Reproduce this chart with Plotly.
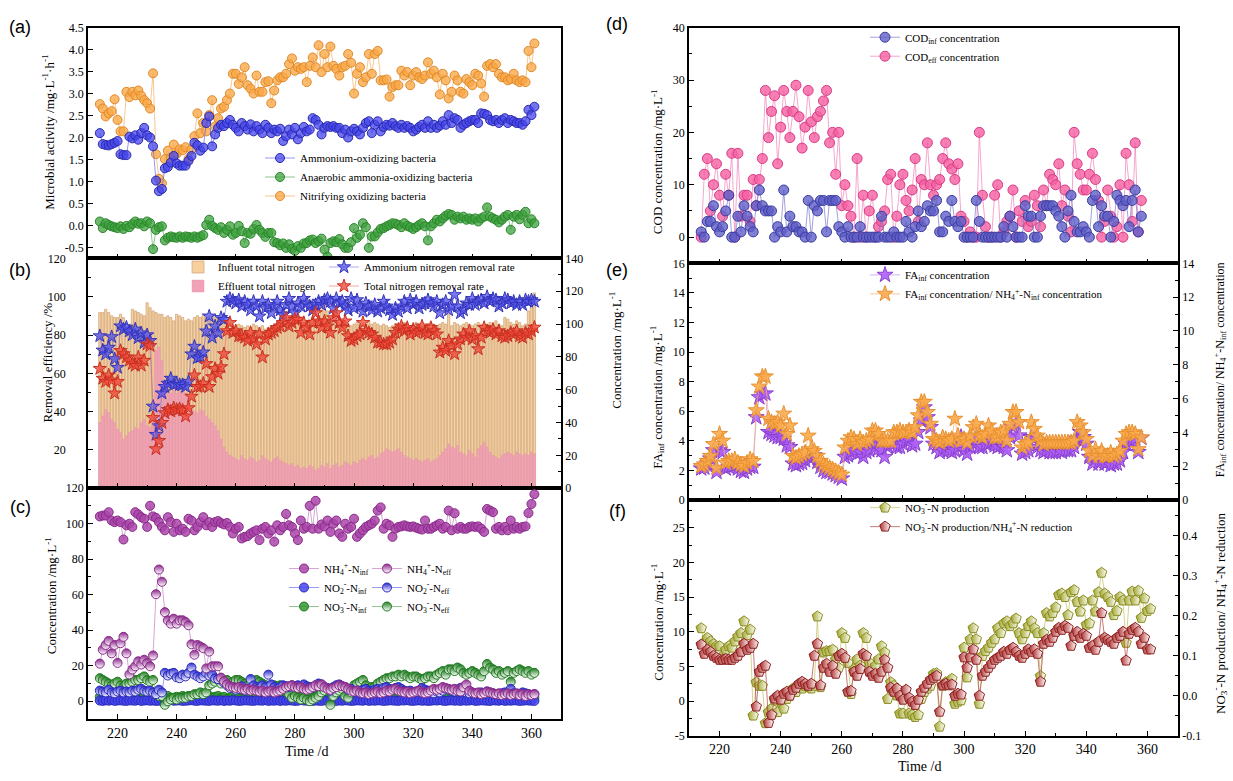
import plotly.graph_objects as go

W, H = 1233, 781
FONT = "Liberation Serif, Times New Roman, serif"


def px(x):
    return x / W


def py(y):
    return 1 - y / H


# ---------------- x values ----------------
days = list(range(214, 362))        # panels a, b, c, f
days_de = list(range(214, 359))     # panels d, e

# ---------------- (a) microbial activity ----------------
aob = [2.10, 1.85, 1.83, 1.82, 1.85, 1.88, 1.92, 1.62, 1.60, 1.60,
       2.02, 1.98, 2.05, 1.95, 2.10, 2.22, 2.05, 2.00, 1.80, 1.02,
       0.78, 0.83, 1.30, 1.33, 1.43, 1.58, 1.41, 1.36, 1.36, 1.36,
       1.47, 1.58, 1.88, 1.82, 1.70, 1.77, 2.33, 2.48, 1.80, 2.07,
       2.22, 2.29, 2.26, 2.33, 2.40, 2.29, 2.22, 2.14, 2.33, 2.26,
       2.18, 2.30, 2.14, 2.26, 2.18, 2.10, 2.29, 2.22, 2.10, 2.18,
       2.14, 2.20, 1.92, 2.03, 2.18, 2.07, 2.22, 1.96, 2.10, 2.24,
       2.14, 2.18, 2.44, 2.40, 2.29, 2.07, 2.22, 2.26, 2.24, 2.26,
       2.22, 2.22, 2.10, 2.18, 2.00, 2.14, 2.20, 2.14, 2.07, 2.22,
       2.33, 2.37, 2.10, 2.29, 2.37, 2.14, 2.24, 2.29, 2.27, 2.33,
       2.26, 2.22, 2.29, 2.22, 2.26, 2.22, 2.14, 2.18, 2.24, 2.29,
       2.22, 2.37, 2.22, 2.29, 2.22, 2.27, 2.37, 2.29, 2.51, 2.33,
       2.44, 2.40, 2.22, 2.29, 2.33, 2.37, 2.40, 2.40, 2.33, 2.55,
       2.54, 2.51, 2.40, 2.37, 2.40, 2.33, 2.40, 2.44, 2.33, 2.40,
       2.37, 2.33, 2.33, 2.29, 2.37, 2.63, 2.51, 2.70]

anaob = [0.09, -0.06, 0.05, 0.01, -0.02, -0.04, -0.06, -0.02, -0.08, -0.01,
         -0.04, 0.03, 0.09, 0.04, 0.05, -0.02, 0.09, 0.05, -0.54, -0.10,
         -0.04, -0.02, -0.34, -0.28, -0.25, -0.27, -0.28, -0.25, -0.28, -0.25,
         -0.26, -0.28, -0.25, -0.28, -0.25, -0.22, 0.01, 0.13, -0.01, -0.06,
         -0.10, -0.04, -0.17, -0.10, -0.02, -0.21, -0.17, -0.01, -0.13, -0.40,
         -0.17, -0.19, -0.08, 0.01, -0.10, -0.17, -0.26, -0.17, -0.17, -0.38,
         -0.40, -0.45, -0.41, -0.51, -0.43, -0.53, -0.58, -0.47, -0.51, -0.41,
         -0.40, -0.34, -0.32, -0.40, -0.36, -0.30, -0.55, -0.71, -0.40, -0.36,
         -0.38, -0.31, -0.43, -0.51, -0.51, -0.38, -0.06, -0.28, -0.21, 0.05,
         -0.04, -0.51, -0.25, -0.25, -0.16, -0.08, -0.06, -0.02, 0.01, 0.05,
         0.04, 0.01, -0.04, 0.05, -0.01, -0.04, -0.08, -0.04, 0.01, 0.05,
         -0.02, -0.34, -0.02, 0.05, 0.13, 0.09, 0.16, 0.22, 0.26, 0.24,
         0.13, 0.20, 0.16, 0.20, 0.13, 0.16, 0.13, 0.16, 0.09, 0.16,
         0.20, 0.41, 0.20, 0.16, 0.13, 0.07, 0.13, 0.20, 0.24, -0.10,
         0.20, 0.24, 0.14, 0.24, 0.31, 0.05, 0.14, 0.05]

nob = [2.76, 2.66, 2.48, 2.55, 2.60, 2.87, 2.40, 2.14, 2.14, 3.04,
       2.92, 3.04, 2.96, 3.07, 2.95, 2.85, 2.78, 2.66, 3.46, 1.62,
       1.06, 0.96, 1.51, 1.70, 1.54, 1.84, 1.63, 1.73, 1.71, 1.78,
       1.51, 1.73, 2.03, 2.55, 2.10, 2.33, 2.14, 2.51, 2.85, 2.25,
       2.44, 2.66, 2.70, 2.85, 3.00, 3.45, 3.45, 3.22, 3.37, 3.60,
       3.19, 3.11, 3.00, 3.41, 3.04, 3.04, 3.26, 3.28, 2.78, 3.07,
       3.30, 3.37, 3.37, 3.45, 3.67, 3.80, 3.52, 3.60, 3.56, 3.60,
       3.26, 3.63, 3.82, 3.60, 4.10, 3.49, 3.90, 3.60, 4.07, 3.63,
       3.56, 3.41, 3.60, 3.63, 3.90, 3.70, 3.00, 3.45, 3.60, 3.26,
       3.37, 3.90, 3.45, 3.90, 3.97, 3.30, 3.30, 3.32, 2.93, 3.15,
       3.19, 3.19, 3.52, 3.41, 3.49, 3.19, 3.41, 3.49, 3.37, 3.33,
       3.41, 3.71, 3.45, 3.52, 3.37, 2.98, 3.45, 3.30, 2.89, 3.04,
       3.41, 3.30, 3.04, 3.00, 3.33, 3.26, 3.19, 3.45, 3.41, 3.23,
       2.93, 3.63, 3.67, 3.60, 3.67, 3.45, 3.37, 3.37, 3.30, 3.33,
       3.45, 3.30, 3.26, 3.30, 3.26, 3.97, 3.60, 4.14]

# ---------------- (b) nitrogen removal ----------------
tn_influent = [107, 107, 109, 107, 105, 104, 104, 106, 104, 98,
               100, 109, 108, 107, 106, 105, 113, 110, 108, 107,
               106, 106, 104, 105, 104, 102, 106, 105, 104, 102,
               103, 102, 104, 105, 104, 106, 104, 103, 105, 104,
               104, 103, 104, 102, 101, 100, 99, 100, 99, 98,
               99, 98, 100, 99, 98, 99, 97, 98, 99, 97,
               98, 99, 98, 100, 99, 101, 100, 102, 100, 101,
               102, 103, 101, 102, 104, 110, 114, 108, 103, 102,
               101, 100, 102, 101, 100, 99, 100, 101, 100, 99,
               100, 102, 100, 101, 100, 99, 100, 99, 98, 99,
               100, 99, 100, 101, 100, 99, 100, 101, 100, 99,
               99, 100, 101, 100, 99, 100, 101, 100, 106, 99,
               101, 100, 99, 100, 101, 100, 99, 100, 101, 100,
               99, 100, 101, 100, 102, 100, 99, 104, 103, 101,
               100, 102, 101, 99, 100, 108, 110, 119]

tn_effluent = [40, 44, 48, 46, 42, 40, 36, 34, 30, 32,
               34, 35, 37, 36, 40, 42, 38, 37, 44, 84,
               86, 78, 64, 60, 58, 60, 58, 59, 60, 58,
               56, 48, 47, 46, 48, 47, 44, 42, 40, 38,
               35, 30, 25, 22, 20, 19, 18, 17, 20, 18,
               17, 19, 18, 16, 17, 20, 18, 17, 16, 18,
               19, 17, 16, 15, 14, 15, 13, 14, 12, 13,
               12, 14, 13, 11, 12, 14, 13, 15, 12, 14,
               15, 13, 14, 16, 15, 14, 16, 15, 17, 18,
               17, 19, 20, 18, 19, 21, 22, 24, 23, 22,
               23, 24, 22, 20, 19, 18, 17, 18, 17, 16,
               17, 18, 16, 17, 18, 20, 22, 24, 27, 25,
               24, 26, 22, 21, 20, 23, 21, 19, 24, 26,
               28, 25, 22, 20, 19, 18, 20, 21, 22, 21,
               20, 22, 21, 20, 21, 20, 22, 21]

nh4_removal = [79.5, 72.0, 70.0, 73.5, 79.0, 67.5, 63.0, 84.6, 83.0, 84.0,
               82.0, 80.0, 83.0, 78.5, 81.0, 76.0, 80.0, 77.0, 42.7, 28.0,
               32.5, 49.6, 53.0, 54.7, 57.3, 54.0, 54.7, 54.0, 54.0, 53.0,
               55.7, 70.0, 74.0, 68.0, 68.5, 71.0, 82.0, 89.8, 78.7, 84.6,
               81.0, 89.0, 88.0, 97.5, 99.0, 98.0, 96.6, 98.3, 95.0, 97.5,
               95.8, 93.0, 97.5, 95.0, 89.8, 97.5, 94.0, 95.8, 91.5, 95.0,
               97.5, 93.0, 90.6, 95.8, 99.0, 95.0, 91.5, 96.6, 95.0, 99.0,
               96.6, 95.0, 93.0, 95.8, 97.5, 95.8, 98.3, 99.0, 97.5, 94.0,
               99.0, 96.6, 97.5, 95.0, 93.0, 99.0, 94.0, 98.3, 95.0, 92.3,
               96.6, 95.0, 93.0, 95.8, 92.3, 94.0, 97.5, 95.0, 93.0, 90.6,
               94.0, 92.3, 95.0, 97.5, 94.0, 98.3, 95.8, 97.5, 94.0, 95.8,
               96.6, 98.3, 96.6, 95.0, 97.5, 91.5, 95.8, 97.5, 93.0, 95.0,
               101.0, 95.0, 91.5, 93.0, 96.6, 95.8, 99.0, 95.8, 97.5, 98.3,
               96.6, 100.0, 97.5, 99.0, 98.3, 95.0, 96.6, 99.0, 98.3, 96.6,
               97.5, 95.8, 97.5, 95.8, 98.3, 97.5, 98.3, 97.5]

tn_removal = [62.4, 57.3, 55.6, 59.0, 56.4, 49.6, 55.6, 71.8, 70.1, 68.4,
              66.7, 65.0, 64.1, 68.4, 64.1, 66.7, 75.2, 74.4, 36.8, 20.5,
              24.8, 34.2, 39.3, 41.0, 40.2, 41.9, 41.0, 41.4, 40.7, 37.6,
              41.9, 47.9, 59.0, 53.0, 53.0, 54.7, 65.0, 53.0, 58.1, 62.4,
              59.9, 63.3, 70.1, 82.1, 86.4, 81.2, 82.1, 79.5, 79.5, 78.7,
              77.0, 81.2, 77.8, 75.2, 80.4, 68.4, 77.8, 80.4, 81.2, 82.1,
              83.8, 84.6, 86.4, 88.9, 84.6, 86.4, 88.1, 88.1, 81.2, 86.4,
              83.8, 80.4, 86.4, 91.5, 87.2, 83.8, 87.2, 84.6, 81.2, 88.9,
              91.5, 86.4, 83.8, 87.2, 79.5, 77.0, 77.8, 79.5, 80.4, 86.4,
              82.1, 81.2, 80.4, 78.7, 76.1, 76.1, 75.2, 75.2, 76.1, 77.8,
              81.2, 82.9, 84.6, 82.1, 83.8, 80.4, 82.9, 81.2, 82.1, 84.6,
              81.2, 80.4, 83.8, 82.1, 80.4, 71.0, 73.5, 71.8, 77.0, 74.4,
              70.1, 75.2, 77.8, 80.4, 78.7, 82.1, 77.8, 79.5, 72.7, 78.7,
              83.8, 82.1, 81.2, 82.9, 80.4, 82.1, 79.5, 78.7, 79.5, 81.2,
              80.4, 82.1, 79.5, 78.7, 81.2, 80.4, 82.1, 84.0]

# ---------------- (c) nitrogen species ----------------
nh4_inf = [104.1, 104.6, 104.6, 106.5, 101.8, 100.9, 101.8, 100.9, 91.1, 99.1,
           100.0, 98.2, 106.5, 105.2, 103.7, 102.8, 98.2, 110.1, 104.1, 103.3,
           100.9, 98.2, 96.3, 103.7, 100.9, 95.4, 100.0, 96.3, 97.2, 95.4,
           102.8, 101.8, 96.3, 98.2, 100.9, 103.7, 99.1, 100.9, 98.2, 100.9,
           101.5, 100.4, 99.6, 100.4, 98.2, 94.5, 97.2, 98.2, 91.7, 92.6,
           93.0, 94.5, 95.4, 96.3, 90.8, 97.2, 98.2, 94.5, 96.3, 89.9,
           99.1, 96.3, 98.2, 105.5, 99.1, 98.2, 94.5, 90.8, 101.8, 97.2,
           98.2, 110.1, 97.2, 112.9, 97.2, 99.6, 98.5, 101.8, 95.4, 100.0,
           101.8, 94.5, 92.6, 100.0, 97.2, 98.2, 102.8, 92.6, 94.5, 96.3,
           98.2, 99.1, 100.0, 101.8, 107.4, 109.2, 97.2, 100.0, 99.1, 92.6,
           97.2, 98.2, 98.5, 99.1, 98.5, 98.2, 98.5, 97.8, 97.2, 96.7,
           101.8, 97.2, 97.2, 98.2, 99.1, 100.0, 97.2, 98.2, 107.4, 96.3,
           105.9, 97.2, 98.2, 97.2, 97.2, 98.2, 98.5, 98.2, 98.5, 97.2,
           95.4, 108.3, 107.4, 106.5, 97.2, 98.2, 96.3, 98.2, 96.3, 101.8,
           97.2, 98.2, 97.2, 98.2, 98.5, 106.0, 111.1, 116.6]

nh4_eff = [21.2, 29.0, 31.7, 34.0, 27.0, 31.7, 21.6, 32.7, 36.3, 27.0,
           15.1, 17.9, 19.7, 22.5, 20.7, 23.4, 21.6, 19.7, 25.8, 60.3,
           74.2, 67.3, 50.2, 45.6, 43.7, 46.5, 43.7, 45.6, 45.6, 44.6,
           42.8, 32.1, 26.2, 31.7, 30.8, 29.9, 18.5, 28.0, 19.7, 19.7,
           19.7, 13.3, 11.4,
           9.6, 8.5, 8.0, 7.5, 8.0, 7.0, 6.5, 7.0, 6.0, 6.5,
           6.0, 5.5, 6.0, 5.0, 5.5, 6.0, 5.0, 5.5, 6.0, 7.0,
           8.0, 8.5, 9.0, 8.0, 7.5, 8.0, 7.0, 6.5, 7.0, 8.0,
           9.0, 8.5, 9.5, 8.0, 7.0, 6.5, 7.5, 8.0, 9.0, 8.5,
           8.0, 7.0, 6.0, 5.5, 6.0, 5.0, 4.5, 5.0, 4.0, 4.5,
           5.0, 5.5, 4.5, 5.0, 6.0, 5.5, 6.5, 7.0, 6.0, 5.5,
           5.0, 5.5, 4.5, 5.0, 5.5, 6.0, 5.0, 4.5, 5.0, 6.0,
           7.0, 6.5, 7.0, 8.0, 7.5, 7.0, 6.5, 7.0, 6.0, 5.5,
           8.0, 9.5, 6.0, 5.0, 4.5, 5.0, 4.0, 4.5, 5.5, 5.0,
           4.5, 4.0, 4.5, 3.5, 4.0, 4.5, 3.5, 4.0, 4.5, 3.5,
           4.0, 3.0, 4.0, 3.5, 4.0]

no2_inf = [0.4, 0.2, 0.5, 0.3, 0.6, 0.2, 0.4, 0.5, 0.3, 0.2,
           0.5, 0.4, 0.3, 0.6, 0.2, 0.4, 0.5, 0.3, 0.4, 0.2,
           0.3, 0.5, 0.4, 0.2, 0.6, 0.3, 0.4, 0.5, 0.2, 0.3,
           0.4, 0.6, 0.3, 0.2, 0.5, 0.4, 0.3, 0.2, 0.5, 0.4,
           0.3, 0.5, 0.2, 0.4, 0.3, 0.6, 0.4, 0.2, 0.3, 0.5,
           0.4, 0.3, 0.2, 0.5, 0.4, 0.3, 0.6, 0.2, 0.4, 0.3,
           0.5, 0.2, 0.4, 0.3, 0.5, 0.4, 0.2, 0.3, 0.6, 0.4,
           0.3, 0.5, 0.2, 0.4, 0.3, 0.2, 0.5, 0.4, 0.3, 0.6,
           0.2, 0.4, 0.3, 0.5, 0.4, 0.2, 0.3, 0.5, 0.4, 0.3,
           0.6, 0.2, 0.4, 0.3, 0.5, 0.4, 0.2, 0.3, 0.5, 0.4,
           0.3, 0.2, 0.5, 0.4, 0.6, 0.3, 0.2, 0.4, 0.5, 0.3,
           0.4, 0.2, 0.3, 0.5, 0.4, 0.6, 0.3, 0.2, 0.4, 0.5,
           0.3, 0.4, 0.2, 0.5, 0.3, 0.4, 0.6, 0.2, 0.3, 0.5,
           0.4, 0.3, 0.2, 0.5, 0.4, 0.3, 0.6, 0.2, 0.4, 0.3,
           0.5, 0.4, 0.2, 0.3, 0.5, 0.4, 0.3, 0.2]

no2_eff = [6.0, 5.5, 5.0, 6.5, 5.0, 4.5, 5.5, 6.0, 5.0, 5.5,
           5.0, 6.0, 5.5, 6.5, 7.0, 6.0, 5.5, 6.0, 5.0, 4.0,
           6.5, 5.0, 16.0, 14.5, 15.5, 16.0, 13.5, 13.0, 15.0, 14.0,
           16.0, 19.0, 15.0, 14.0, 13.0, 14.0, 16.0, 14.5, 15.0, 13.0,
           12.5, 13.0, 10.5, 9.0, 7.5, 8.0, 6.5, 7.0, 8.5, 6.0,
           7.0, 12.5, 9.0, 8.0, 7.5, 9.0, 8.0, 15.0, 9.5, 8.0,
           7.0, 8.0, 9.0, 8.5, 8.0, 9.0, 8.5, 9.0, 8.0, 9.5,
           8.5, 8.0, 7.5, 9.0, 10.0, 9.5, 8.0, 7.5, 6.0, 8.0,
           9.0, 9.5, 8.5, 8.0, 6.5, 7.0, 5.5, 6.0, 5.0, 6.5,
           7.0, 6.0, 5.5, 6.5, 7.0, 6.0, 7.5, 8.0, 7.0, 6.5,
           7.5, 8.0, 7.0, 6.0, 5.5, 6.0, 5.0, 5.5, 6.0, 7.5,
           6.5, 6.0, 5.0, 4.5, 5.5, 5.0, 6.0, 7.0, 6.5, 6.0,
           5.5, 6.5, 7.5, 6.0, 5.0, 4.5, 5.0, 4.0, 4.5, 5.0,
           4.0, 5.5, 5.0, 4.5, 4.0, 3.5, 4.5, 5.0, 4.0, 7.0,
           4.5, 4.0, 3.5, 5.0, 4.5, 4.0, 3.5, 4.0]

no3_inf = [2.5, 3.0, 2.0, 1.5, 2.5, 3.0, 2.0, 1.5, 2.0, 3.5,
           3.0, 2.5, 2.0, 1.5, 2.5, 3.0, 2.0, 3.5, 2.5, 2.0,
           1.5, 2.0, 2.5, 3.0, 2.0, 1.5, 2.5, 2.0, 3.0, 2.5,
           2.0, 1.5, 2.5, 3.0, 2.0, 2.5, 3.5, 3.0, 2.0, 2.5,
           3.0, 2.0, 2.5, 1.5, 2.0, 3.0, 2.5, 2.0, 1.5, 2.0,
           2.5, 3.0, 2.0, 2.5, 1.5, 2.0, 3.0, 2.5, 2.0, 1.5,
           2.0, 2.5, 3.0, 2.0, 1.5, 2.5, 2.0, 3.0, 2.5, 2.0,
           1.5, 2.0, 2.5, 3.0, 2.0, 2.5, 1.5, 2.0, 3.0, 2.5,
           2.0, 1.5, 2.5, 2.0, 3.0, 2.5, 2.0, 3.5, 3.0, 2.5,
           2.0, 3.0, 2.5, 2.0, 1.5, 2.5, 3.0, 2.0, 2.5, 3.0,
           2.5, 2.0, 3.0, 2.5, 2.0, 1.5, 2.5, 3.0, 2.0, 2.5,
           3.0, 2.5, 2.0, 3.0, 2.5, 2.0, 1.5, 2.5, 3.0, 2.0,
           2.5, 3.0, 2.0, 2.5, 3.0, 2.0, 1.5, 2.5, 3.0, 2.5,
           2.0, 2.5, 3.0, 2.0, 2.5, 3.0, 2.0, 1.5, 2.5, 3.0,
           2.5, 2.0, 3.0, 2.5, 2.0, 3.0, 2.5, 2.0]

no3_eff = [13, 12, 11, 10, 9, 10, 11, 9, 8, 10,
           10, 11, 12, 12, 13, 14, 12, 11, 12, 4,
           3, 3, -2, 0, 1, 2, 1, 2, 2, 2,
           3, 3, 4, 4, 5, 4, 5, 9, 10, 11,
           12, 10, 11, 12, 10, 11, 12, 12, 11, 10,
           9, 10, 11, 12, 11, 10, 9, 8, 8, 9,
           8, 9, 7, 6, 4, 2, 3, 2, 1, 2,
           1, 0, 1, 2, 3, 5, 6, 7, -2, 3,
           5, 6, 7, 3, 2, 5, 9, 10, 11, 12,
           9, 7, 8, 8, 10, 11, 12, 13, 13, 14,
           14, 15, 14, 15, 14, 13, 14, 14, 13, 12,
           13, 14, 14, 13, 15, 16, 17, 15, 18, 18,
           17, 19, 18, 16, 15, 16, 17, 16, 15, 14,
           17, 21, 19, 18, 16, 17, 15, 16, 17, 11,
           16, 17, 18, 17, 16, 17, 15, 16]

# ---------------- (d) COD ----------------
cod_inf = [1, 0, 3, 3, 6, 2, 1, 2, 5, 8,
           0, 0, 4, 1, 6, 4, 2, 1, 6, 9,
           6, 5, 5, 5, 0, 2, 1, 9, 1, 4,
           2, 2, 1, 1, 0, 7, 0, 6, 5, 7,
           7, 1, 7, 7, 7, 2, 1, 0, 2, 0,
           0, 0, 2, 0, 0, 0, 0, 0, 0, 4,
           0, 0, 0, 1, 0, 0, 0, 3, 1, 0,
           2, 5, 2, 3, 6, 5, 5, 7, 1, 1,
           4, 3, 7, 3, 2, 3, 0, 0, 0, 0,
           7, 3, 0, 0, 0, 0, 0, 0, 0, 2,
           0, 4, 2, 0, 0, 0, 6, 4, 4, 0,
           0, 4, 6, 6, 6, 6, 5, 4, 2, 0,
           5, 8, 3, 1, 1, 2, 1, 0, 7, 8,
           2, 6, 4, 4, 0, 3, 8, 7, 6, 7,
           2, 7, 9, 1, 4]

cod_eff = [0, 12, 15, 5, 10, 14, 8, 4, 12, 8,
           16, 0, 16, 4, 8, 8, 3, 11, 6, 11,
           15, 28, 19, 24, 27, 14, 21, 28, 24, 19,
           24, 29, 23, 17, 21, 28, 22, 19, 23, 24,
           26, 28, 18, 20, 12, 20, 6, 10, 6, 4,
           0, 15, 0, 8, 0, 5, 8, 0, 2, 3,
           5, 11, 12, 0, 4, 10, 12, 7, 5, 9,
           15, 3, 11, 10, 18, 10, 8, 10, 11, 15,
           18, 14, 13, 11, 14, 4, 3, 0, 1, 0,
           0, 20, 8, 2, 0, 0, 8, 10, 0, 1,
           3, 4, 9, 0, 5, 3, 7, 2, 3, 8,
           6, 2, 9, 6, 12, 11, 10, 14, 6, 9,
           4, 1, 20, 14, 12, 9, 9, 12, 16, 11,
           7, 0, 3, 9, 4, 0, 2, 10, 0, 16,
           10, 3, 18, 1, 7]

# ---------------- (e) free ammonia ----------------
fa_inf = [2.13, 2.19, 2.46, 2.80, 3.36, 1.90, 3.36, 3.24, 2.13, 2.24,
          2.28, 2.35, 2.13, 1.97, 1.90, 2.13, 2.24, 2.24, 5.59, 6.94,
          7.16, 7.20, 4.59, 4.47, 4.36, 4.25, 4.25, 4.14, 3.69, 3.58,
          2.46, 2.35, 2.46, 2.51, 2.68, 2.91, 2.80, 3.02, 2.57, 2.24,
          2.02, 1.90, 1.90, 1.79, 1.68, 1.57, 1.45, 2.91, 3.02, 3.24,
          3.36, 3.13, 3.24, 2.91, 3.24, 3.36, 3.80, 3.58, 3.47, 3.36,
          2.91, 3.58, 3.80, 3.80, 3.58, 3.58, 3.80, 4.03, 4.03, 3.69,
          3.80, 4.59, 5.37, 6.26, 5.59, 4.92, 3.80, 3.58, 3.24, 3.36,
          3.58, 3.36, 3.24, 3.36, 3.58, 4.25, 3.36, 3.13, 3.58, 3.80,
          4.25, 3.58, 3.58, 3.80, 3.80, 3.92, 3.69, 3.58, 3.69, 3.58,
          3.36, 4.25, 4.92, 5.15, 4.36, 3.13, 3.24, 3.36, 4.25, 4.14,
          3.58, 3.36, 3.24, 3.36, 3.24, 3.24, 3.24, 3.36, 3.24, 3.36,
          3.36, 3.36, 3.58, 4.14, 4.59, 4.25, 3.80, 2.91, 2.46, 2.80,
          2.46, 2.68, 2.46, 2.57, 2.35, 2.46, 2.46, 2.68, 3.24, 3.80,
          4.03, 4.03, 4.14, 3.24, 4.20]

fa_ratio = [2.0, 2.1, 2.3, 2.6, 3.3, 1.9, 3.9, 3.5, 2.2, 2.3,
            2.3, 2.4, 2.2, 2.1, 2.0, 2.2, 2.4, 2.3, 5.3, 6.7,
            7.3, 7.3, 4.8, 4.6, 4.5, 4.6, 4.4, 5.1, 3.9, 4.4,
            2.6, 2.5, 2.6, 2.7, 2.8, 3.8, 3.0, 2.9, 2.6, 2.3,
            2.1, 2.0, 1.9, 1.8, 1.7, 1.6, 1.5, 3.1, 3.5, 3.7,
            3.6, 3.3, 3.6, 3.4, 3.5, 3.6, 4.1, 4.1, 3.9, 3.5,
            3.5, 3.5, 3.5, 4.0, 4.0, 4.1, 4.0, 4.0, 4.1, 4.0,
            4.3, 5.0, 5.8, 5.8, 5.2, 4.5, 3.6, 3.5, 3.4, 3.7,
            3.6, 3.5, 3.6, 4.8, 3.8, 3.5, 3.6, 3.4, 3.8, 4.3,
            4.5, 3.8, 3.7, 3.9, 4.4, 4.1, 3.7, 3.7, 4.0, 4.1,
            3.5, 4.5, 5.2, 5.2, 4.6, 3.1, 3.3, 3.4, 4.6, 4.2,
            3.8, 3.5, 3.3, 3.4, 3.4, 3.4, 3.4, 3.4, 3.4, 3.4,
            3.4, 3.4, 3.5, 4.6, 4.4, 4.0, 3.6, 2.9, 2.6, 3.0,
            2.6, 2.9, 2.6, 2.6, 2.8, 2.6, 2.7, 2.9, 3.5, 3.9,
            4.0, 4.0, 3.9, 3.0, 3.7]

# ---------------- (f) nitrate production ----------------
no3_prod = [10.5, 8.4, 9.1, 8.6, 8.2, 7.9, 7.9, 6.5, 7.4, 7.9,
            7.7, 8.6, 9.3, 9.8, 11.5, 9.5, 10.3, -2.1, 2.7, 2.2,
            2.2, -3.2, -1.6, -1.1, 0.1, -1.6, -0.1, -1.1, 0.3, 0.8,
            1.8, 1.3, 2.0, 1.8, 2.2, 2.0, 1.8, 2.2, 12.2, 2.0,
            7.0, 7.2, 7.2, 7.4, 6.0, 4.8, 9.8, 9.1, 5.5, 1.0,
            4.6, 6.0, 5.1, 9.8, 9.1, 5.5, 4.4, 5.1, 6.0, 7.9,
            7.0, 0.3, 2.7, 2.2, 0.8, -1.8, -1.8, 0.3, -1.8, -2.0,
            -2.3, -2.0, 0.3, 1.3, 1.8, 2.2, 3.9, 4.0, -3.7, 2.2,
            2.7, 2.7, 3.2, -0.4, -0.1, 0.1, 7.7, 3.4, 8.9, 10.5,
            8.9, -0.4, 6.5, 7.2, 7.7, 8.4, 8.9, 10.5, 9.8, 11.2,
            11.5, 10.8, 11.2, 11.9, 9.8, 8.9, 9.8, 10.8, 11.5, 10.5,
            9.8, 3.6, 9.8, 12.7, 12.2, 12.7, 13.5, 15.3, 15.5, 15.0,
            12.4, 15.7, 16.0, 14.3, 12.9, 14.5, 11.0, 11.2, 14.5, 12.9,
            15.7, 18.5, 15.5, 15.0, 14.3, 12.4, 13.0, 15.0, 14.5, 8.4,
            14.5, 15.8, 14.5, 15.9, 12.0, 14.8, 13.0, 13.3]

no3_ratio = [0.128, 0.105, 0.115, 0.110, 0.100, 0.095, 0.090, 0.090, 0.092, 0.090,
             0.090, 0.095, 0.100, 0.110, 0.130, 0.115, 0.120, 0.130, -0.027, 0.060,
             0.070, 0.075, -0.068, -0.048, -0.007, 0.000, -0.010, 0.005, 0.010, 0.000,
             0.015, 0.020, 0.030, 0.035, 0.030, 0.025, 0.030, 0.100, 0.130, 0.026,
             0.070, 0.080, 0.060, 0.075, 0.055, 0.100, 0.105, 0.095, 0.010, 0.012,
             0.060, 0.050, 0.067, 0.105, 0.100, 0.060, 0.050, 0.055, 0.045, 0.060,
             0.090, 0.070, 0.020, 0.010, 0.018, 0.000, -0.010, 0.015, -0.005, -0.015,
             -0.023, -0.010, 0.010, 0.020, 0.030, 0.040, 0.045, 0.050, -0.040, 0.026,
             0.030, 0.026, 0.028, 0.000, 0.005, 0.003, 0.096, 0.070, 0.096, 0.116,
             0.090, 0.000, 0.050, 0.060, 0.070, 0.080, 0.090, 0.095, 0.100, 0.110,
             0.105, 0.115, 0.120, 0.110, 0.100, 0.095, 0.105, 0.116, 0.110, 0.116,
             0.105, 0.035, 0.130, 0.140, 0.135, 0.145, 0.160, 0.170, 0.165, 0.175,
             0.170, 0.125, 0.150, 0.160, 0.145, 0.155, 0.150, 0.120, 0.125, 0.115,
             0.135, 0.207, 0.145, 0.140, 0.135, 0.130, 0.145, 0.150, 0.160, 0.088,
             0.155, 0.165, 0.170, 0.160, 0.130, 0.145, 0.116, 0.116]

for _name, _arr, _n in [("aob", aob, 148), ("anaob", anaob, 148), ("nob", nob, 148),
                        ("tn_influent", tn_influent, 148), ("tn_effluent", tn_effluent, 148),
                        ("nh4_removal", nh4_removal, 148), ("tn_removal", tn_removal, 148),
                        ("nh4_inf", nh4_inf, 148), ("nh4_eff", nh4_eff, 148),
                        ("no2_inf", no2_inf, 148), ("no2_eff", no2_eff, 148),
                        ("no3_inf", no3_inf, 148), ("no3_eff", no3_eff, 148),
                        ("cod_inf", cod_inf, 145), ("cod_eff", cod_eff, 145),
                        ("fa_inf", fa_inf, 145), ("fa_ratio", fa_ratio, 145),
                        ("no3_prod", no3_prod, 148), ("no3_ratio", no3_ratio, 148)]:
    if len(_arr) != _n:
        raise ValueError(f"{_name} has {len(_arr)} values, expected {_n}")

# ---------------- figure ----------------
fig = go.Figure()


def scat(x, y, name, xa, ya, lg, fill, edge, linec, symbol="circle", size=9, grad=None, lw=0.7):
    marker = dict(symbol=symbol, size=size, color=fill, line=dict(color=edge, width=1))
    if grad:
        marker["gradient"] = dict(type=grad, color="rgba(255,255,255,0.95)")
    return go.Scatter(x=x, y=y, name=name, xaxis=xa, yaxis=ya, legend=lg,
                      mode="lines+markers", line=dict(color=linec, width=lw), marker=marker)


# (a)
fig.add_trace(scat(days, nob, "Nitrifying oxidizing bacteria", "x", "y", "legend",
                   "rgba(250,168,70,0.78)", "#e08a2a", "#f5b060"))
fig.add_trace(scat(days, anaob, "Anaerobic ammonia-oxidizing bacteria", "x", "y", "legend",
                   "rgba(60,160,60,0.75)", "#2a862a", "#60b060"))
fig.add_trace(scat(days, aob, "Ammonium-oxidizing bacteria", "x", "y", "legend",
                   "rgba(70,70,235,0.75)", "#2a2ab0", "#6a6af0"))

# (b) bars (right axis y2) + stars (left axis y3)
fig.add_trace(go.Bar(x=days, y=tn_influent, name="Influent total nitrogen", xaxis="x2", yaxis="y2",
                     legend="legend2", width=0.78,
                     marker=dict(color="#f8cf9f", line=dict(color="#c49a6c", width=0.6))))
fig.add_trace(go.Bar(x=days, y=tn_effluent, name="Effluent total nitrogen", xaxis="x2", yaxis="y2",
                     legend="legend2", width=0.78,
                     marker=dict(color="#f2a2b6", line=dict(color="#e890a6", width=0.4))))
fig.add_trace(scat(days, nh4_removal, "Ammonium nitrogen removal rate", "x2", "y3", "legend3",
                   "rgba(80,80,235,0.75)", "#3434b8", "#7070e0", symbol="star", size=10, lw=0.6))
fig.add_trace(scat(days, tn_removal, "Total nitrogen removal rate", "x2", "y3", "legend3",
                   "rgba(240,70,55,0.75)", "#c83020", "#f07060", symbol="star", size=10, lw=0.6))

# (c)
c_purple = ("rgba(170,70,170,0.85)", "#8a2a8a", "#c080c0")
c_blue = ("rgba(70,70,240,0.85)", "#2a2ab8", "#7070f0")
c_green = ("rgba(50,150,50,0.85)", "#1e7a1e", "#60b060")
e_purple = ("rgb(140,40,140)", "#8a2a8a", "#c080c0")
e_blue = ("rgb(40,40,210)", "#2a2ab8", "#7070f0")
e_green = ("rgb(30,125,30)", "#1e7a1e", "#60b060")
fig.add_trace(scat(days, no3_inf, "NO<sub>3</sub><sup>-</sup>-N<sub>inf</sub>", "x3", "y4", "legend4", *c_green))
fig.add_trace(scat(days, no2_inf, "NO<sub>2</sub><sup>-</sup>-N<sub>inf</sub>", "x3", "y4", "legend4", *c_blue))
fig.add_trace(scat(days, nh4_inf, "NH<sub>4</sub><sup>+</sup>-N<sub>inf</sub>", "x3", "y4", "legend4", *c_purple))
fig.add_trace(scat(days, no3_eff, "NO<sub>3</sub><sup>-</sup>-N<sub>eff</sub>", "x3", "y4", "legend5", *e_green, grad="vertical"))
fig.add_trace(scat(days, no2_eff, "NO<sub>2</sub><sup>-</sup>-N<sub>eff</sub>", "x3", "y4", "legend5", *e_blue, grad="vertical"))
fig.add_trace(scat(days, nh4_eff, "NH<sub>4</sub><sup>+</sup>-N<sub>eff</sub>", "x3", "y4", "legend5", *e_purple, grad="vertical"))

# (d)
fig.add_trace(scat(days_de, cod_eff, "COD<sub>eff</sub> concentration", "x4", "y5", "legend6",
                   "rgba(245,95,160,0.8)", "#d83c88", "#f080b8", size=10))
fig.add_trace(scat(days_de, cod_inf, "COD<sub>inf</sub> concentration", "x4", "y5", "legend6",
                   "rgba(95,95,200,0.8)", "#3c3ca0", "#7878d0", size=10))

# (e)
fig.add_trace(scat(days_de, fa_ratio,
                   "FA<sub>inf</sub> concentration/ NH<sub>4</sub><sup>+</sup>-N<sub>inf</sub> concentration",
                   "x5", "y7", "legend7", "rgba(250,170,75,0.9)", "#e89030", "#f5b070", symbol="star", size=12))
fig.add_trace(scat(days_de, fa_inf, "FA<sub>inf</sub> concentration", "x5", "y6", "legend7",
                   "rgba(175,95,245,0.9)", "#8a40d0", "#c090f0", symbol="star", size=12))

# (f)
fig.add_trace(scat(days, no3_prod, "NO<sub>3</sub><sup>-</sup>-N production", "x6", "y8", "legend8",
                   "rgb(160,165,40)", "#8a8c20", "#c0c060", symbol="pentagon", size=11, grad="horizontal"))
fig.add_trace(scat(days, no3_ratio,
                   "NO<sub>3</sub><sup>-</sup>-N production/NH<sub>4</sub><sup>+</sup>-N reduction",
                   "x6", "y9", "legend8", "rgb(175,45,45)", "#8c2020", "#b04040",
                   symbol="pentagon", size=11, grad="horizontal"))

# ---------------- axes ----------------
XL = [px(88), px(561)]
XR = [px(689), px(1178)]
DA = [py(256), py(21)]
DB = [py(490), py(256)]
DC = [py(725), py(490)]
DD = [py(261), py(21)]
DE = [py(502), py(261)]
DF = [py(742), py(502)]

LINE = dict(showline=True, linecolor="black", linewidth=1.6, showgrid=False, zeroline=False,
            ticks="inside", ticklen=5, tickwidth=1.2, tickcolor="black")


def xaxis(dom, anchor, labels):
    d = dict(LINE)
    d.update(domain=dom, anchor=anchor, range=[210, 370], mirror=True, tick0=0, dtick=20,
             minor=dict(ticks="inside", ticklen=3, tickwidth=1, tickcolor="black", tick0=0, dtick=10),
             showticklabels=labels, tickfont=dict(family=FONT, size=14, color="black"))
    return d


def yaxis(anchor, rng, vals, texts, minor=None, side="left", dom=None, mirror=False,
          overlaying=None, standoff=None):
    d = dict(LINE)
    d.update(anchor=anchor, range=rng, side=side, mirror=mirror, tickmode="array",
             tickvals=vals, ticktext=texts, tickfont=dict(family=FONT, size=12, color="black"))
    if dom is not None:
        d["domain"] = dom
    if overlaying:
        d["overlaying"] = overlaying
    if minor is not None:
        d["minor"] = dict(ticks="inside", ticklen=3, tickwidth=1, tickcolor="black",
                          tickmode="array", tickvals=minor)
    if standoff is not None:
        d["ticklabelstandoff"] = standoff
    return d


a_vals = [-0.5, 0, 0.5, 1, 1.5, 2, 2.5, 3, 3.5, 4, 4.5]
a_text = ["-0.5", "0.0", "0.5", "1.0", "1.5", "2.0", "2.5", "3.0", "3.5", "4.0", "4.5"]

fig.update_layout(
    xaxis=xaxis(XL, "y", False),
    yaxis=yaxis("x", [-0.75, 4.5], a_vals, a_text, dom=DA, mirror=True),
    xaxis2=xaxis(XL, "y2", False),
    yaxis2=yaxis("x2", [0, 140], list(range(0, 141, 20)), [str(v) for v in range(0, 141, 20)],
                 minor=list(range(10, 140, 20)), side="right", dom=DB),
    yaxis3=yaxis("x2", [0, 120], list(range(20, 121, 20)), [str(v) for v in range(20, 121, 20)],
                 minor=list(range(10, 120, 20)), side="left", overlaying="y2", standoff=18),
    xaxis3=xaxis(XL, "y4", True),
    yaxis4=yaxis("x3", [-10, 120], list(range(0, 121, 20)), [str(v) for v in range(0, 121, 20)],
                 minor=list(range(10, 120, 20)), dom=DC, mirror=True),
    xaxis4=xaxis(XR, "y5", False),
    yaxis5=yaxis("x4", [-5, 40], [0, 10, 20, 30, 40], ["0", "10", "20", "30", "40"],
                 minor=[5, 15, 25, 35], dom=DD, mirror=True),
    xaxis5=xaxis(XR, "y6", False),
    yaxis6=yaxis("x5", [0, 16], list(range(0, 17, 2)), [str(v) for v in range(0, 17, 2)],
                 minor=list(range(1, 16, 2)), dom=DE),
    yaxis7=yaxis("x5", [0, 14], list(range(0, 15, 2)), [str(v) for v in range(0, 15, 2)],
                 minor=list(range(1, 14, 2)), side="right", overlaying="y6"),
    xaxis6=xaxis(XR, "y8", True),
    yaxis8=yaxis("x6", [-5, 29], [-5, 0, 5, 10, 15, 20, 25], ["-5", "0", "5", "10", "15", "20", "25"],
                 minor=[-2.5, 2.5, 7.5, 12.5, 17.5, 22.5, 27.5], dom=DF),
    yaxis9=yaxis("x6", [-0.1, 0.49], [-0.1, 0, 0.1, 0.2, 0.3, 0.4],
                 ["-0.1", "0.0", "0.1", "0.2", "0.3", "0.4"],
                 minor=[-0.05, 0.05, 0.15, 0.25, 0.35, 0.45], side="right", overlaying="y8"),
)


def leg(x, y, order="reversed"):
    return dict(x=px(x), y=py(y), xanchor="left", yanchor="top", bgcolor="rgba(0,0,0,0)",
                borderwidth=0, font=dict(family=FONT, size=11, color="black"),
                tracegroupgap=0, traceorder=order)


fig.update_layout(
    legend=leg(260, 139),
    legend2=leg(178, 250, "normal"),
    legend3=leg(324, 250, "normal"),
    legend4=leg(284, 557),
    legend5=leg(367, 557),
    legend6=leg(865, 16),
    legend7=leg(865, 258),
    legend8=leg(865, 495, "normal"),
)

# ---------------- titles & labels ----------------
ann = []


def vtitle(text, x, y, size=13):
    ann.append(dict(text=text, x=px(x), y=py(y), xref="paper", yref="paper", textangle=-90,
                    showarrow=False, xanchor="center", yanchor="middle",
                    font=dict(family=FONT, size=size, color="black")))


def htext(text, x, y, size=14, family=FONT):
    ann.append(dict(text=text, x=px(x), y=py(y), xref="paper", yref="paper", showarrow=False,
                    xanchor="center", yanchor="middle", font=dict(family=family, size=size, color="black")))


MGL = "mg·L<sup>-1</sup>"
vtitle("Microbial activity /" + MGL + "·h<sup>-1</sup>", 48, 128)
vtitle("Removal efficiency /%", 48, 362)
vtitle("Concentration /" + MGL, 51, 600)
vtitle("Concentration /" + MGL, 615, 350)
vtitle("COD concentration /" + MGL, 657, 158)
vtitle("FA<sub>inf</sub> concentration /" + MGL, 657, 398)
vtitle("Concentration /" + MGL, 657, 627)
vtitle("FA<sub>inf</sub> concentration/ NH<sub>4</sub><sup>+</sup>-N<sub>inf</sub> concentration", 1220, 370, size=12)
vtitle("NO<sub>3</sub><sup>-</sup>-N production/ NH<sub>4</sub><sup>+</sup>-N reduction", 1220, 617)
htext("Time /d", 306, 758)
htext("Time /d", 919, 773)
PANEL = "Liberation Sans, Arial, sans-serif"
htext("(a)", 20, 20, size=18, family=PANEL)
htext("(b)", 20, 268, size=18, family=PANEL)
htext("(c)", 20, 509, size=18, family=PANEL)
htext("(d)", 617, 17, size=18, family=PANEL)
htext("(e)", 617, 268, size=18, family=PANEL)
htext("(f)", 617, 513, size=18, family=PANEL)

fig.update_layout(
    annotations=ann,
    width=W, height=H, autosize=False,
    margin=dict(l=0, r=0, t=0, b=0),
    paper_bgcolor="white", plot_bgcolor="white",
    barmode="overlay", showlegend=True,
    font=dict(family=FONT, color="black"),
)

fig.write_html("out.html", config={"displayModeBar": False},
               post_script="document.body.style.margin='0px';document.body.style.padding='0px';"
                           "document.body.style.overflow='hidden';")
